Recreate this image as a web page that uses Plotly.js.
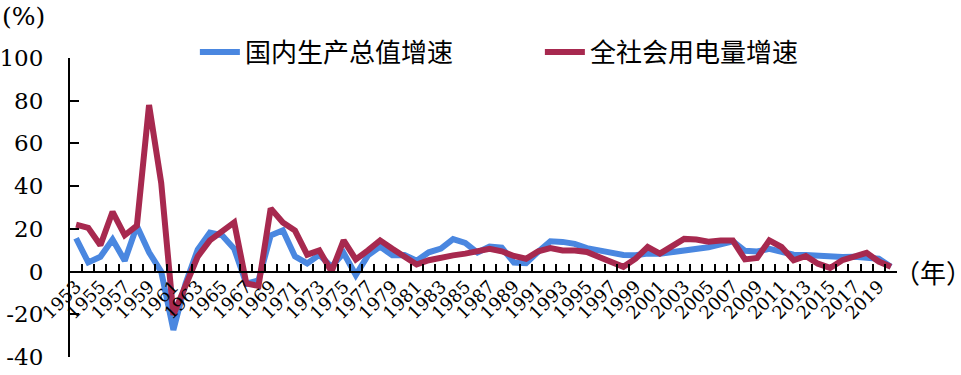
<!DOCTYPE html>
<html>
<head>
<meta charset="utf-8">
<script src="https://cdn.plot.ly/plotly-3.0.1.min.js"></script>
<style>html,body{margin:0;padding:0;background:#fff;}#chart{width:961px;height:375px;}</style>
</head>
<body>
<div id="chart"></div>
<script>
const years = [];
for (let y = 1953; y <= 2020; y++) years.push(y);

const gdpGrowth = [15.6, 4.3, 6.9, 15.0, 5.1, 21.3, 9.0, 0.0, -27.3, -5.6,
  10.3, 18.2, 17.0, 10.7, -5.7, -4.1, 16.9, 19.3, 7.1, 3.8,
  7.8, 2.3, 8.7, -1.6, 7.6, 11.7, 7.6, 7.8, 5.1, 9.0,
  10.8, 15.2, 13.4, 8.9, 11.7, 11.2, 4.2, 3.9, 9.3, 14.2,
  13.9, 13.0, 11.0, 9.9, 9.2, 7.8, 7.7, 8.5, 8.3, 9.1,
  10.0, 10.1, 11.4, 12.7, 14.2, 9.7, 9.4, 10.6, 9.6, 7.9,
  7.8, 7.4, 7.0, 6.8, 6.9, 6.7, 6.0, 2.3];

const elecGrowth = [22.0, 20.5, 12.3, 28.0, 17.0, 21.5, 78.0, 41.5, -20.3, -6.5,
  7.0, 14.6, 19.2, 23.0, -5.6, -6.7, 29.6, 23.0, 19.2, 7.9,
  9.9, 0.0, 14.6, 5.7, 9.9, 14.6, 10.7, 7.3, 3.3, 5.3,
  6.8, 7.6, 8.4, 9.2, 10.7, 9.5, 7.3, 6.0, 9.5, 11.0,
  9.9, 9.9, 9.2, 6.8, 4.5, 2.2, 6.0, 11.5, 8.4, 11.5,
  15.3, 15.0, 14.0, 14.5, 14.5, 5.7, 6.4, 14.6, 11.5, 5.3,
  7.3, 3.7, 1.7, 5.3, 6.8, 8.8, 4.7, 2.2];

const seriesNames = ['国内生产总值增速', '全社会用电量增速'];
const xTickVals = years.filter(y => y % 2 === 1);
const xTickText = xTickVals.map(String);
const yTickVals = [-40, -20, 0, 20, 40, 60, 80, 100];
const yTickText = ['-40', '-20', '0', '20', '40', '60', '80', '100'];

const serif = 'DejaVu Serif, serif';
const cjk = 'Noto Sans CJK SC, sans-serif';

const traces = [
  {x: years, y: gdpGrowth, name: seriesNames[0], type: 'scatter', mode: 'lines',
   line: {color: '#4A87E0', width: 6}, xaxis: 'x', yaxis: 'y'},
  {x: years, y: elecGrowth, name: seriesNames[1], type: 'scatter', mode: 'lines',
   line: {color: '#A7294F', width: 6}, xaxis: 'x2', yaxis: 'y'}
];

const zeroPos = 40 / 140;
const layout = {
  width: 961, height: 375,
  margin: {l: 70, r: 64, t: 58, b: 18},
  paper_bgcolor: '#fff', plot_bgcolor: '#fff',
  showlegend: true,
  legend: {orientation: 'h', x: 0.151, y: 1.02, xanchor: 'left', yanchor: 'middle',
    font: {family: cjk, size: 26, color: '#000'}, itemwidth: 40,
    entrywidth: 290, entrywidthmode: 'pixels', bgcolor: 'rgba(0,0,0,0)'},
  xaxis: {type: 'linear', range: [1952.5, 2020.5], anchor: 'free', position: zeroPos,
    showline: true, linecolor: '#000', linewidth: 2, showgrid: false, zeroline: false,
    tickmode: 'linear', tick0: 1952.5, dtick: 1, ticks: 'inside', ticklen: 7, tickwidth: 2,
    tickcolor: '#000', showticklabels: false},
  xaxis2: {type: 'linear', range: [1952.5, 2020.5], overlaying: 'x', anchor: 'free', position: zeroPos,
    showline: false, showgrid: false, zeroline: false, ticks: '',
    tickmode: 'array', tickvals: xTickVals, ticktext: xTickText, tickangle: -45,
    tickfont: {family: serif, size: 18, color: '#000'}},
  yaxis: {range: [-40, 100], showline: true, linecolor: '#000', linewidth: 2, showgrid: false,
    zeroline: false, tickmode: 'array', tickvals: yTickVals, ticktext: yTickText,
    ticks: 'inside', ticklen: 9, tickwidth: 2, tickcolor: '#000', ticklabelstandoff: 20,
    tickfont: {family: serif, size: 23, color: '#000'}},
  annotations: [
    {text: '(%)', xref: 'paper', yref: 'paper', x: -70 / 827, y: (357 - 16) / 299,
     xanchor: 'left', yanchor: 'middle', showarrow: false,
     font: {family: serif, size: 25, color: '#000'}},
    {text: '（年）', xref: 'paper', yref: 'y', x: 0.994, y: 0,
     xanchor: 'left', yanchor: 'middle', showarrow: false,
     font: {family: cjk, size: 26, color: '#000'}}
  ]
};

Plotly.newPlot('chart', traces, layout, {staticPlot: true, displayModeBar: false});
</script>
</body>
</html>
